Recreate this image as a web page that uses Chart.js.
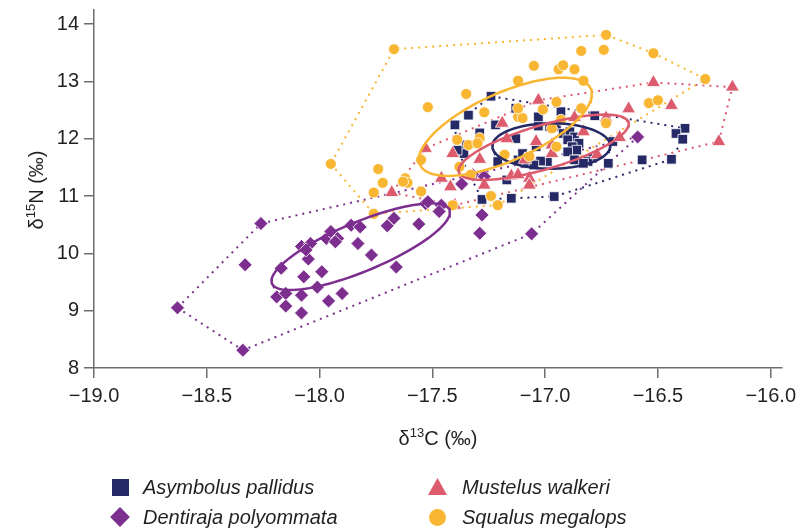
<!DOCTYPE html>
<html>
<head>
<meta charset="utf-8">
<script src="https://cdn.jsdelivr.net/npm/chart.js@4.4.1/dist/chart.umd.min.js"></script>
<style>
  body { margin: 0; background: #fff; }
  #wrap { position: relative; width: 803px; height: 530px; }
  #chart { position: absolute; left: 0; top: 0; }
  .legText { position: absolute; font: italic 20px "Liberation Sans", Arial, sans-serif; color: #231f20; line-height: 22px; white-space: nowrap; }
  .mk { position: absolute; }
</style>
</head>
<body>
<div id="wrap">
  <canvas id="chart" width="803" height="530"></canvas>
  <div class="mk" style="left:112px;top:479px;width:17px;height:17px;background:#252a66;"></div>
  <div class="legText" style="left:143px;top:476px;">Asymbolus pallidus</div>
  <div class="mk" style="left:113px;top:510px;width:14px;height:14px;background:#7d2f8f;transform:rotate(45deg);"></div>
  <div class="legText" style="left:143px;top:506px;">Dentiraja polyommata</div>
  <div class="mk" style="left:428px;top:478px;width:19px;height:17px;background:#dc5b6d;clip-path:polygon(50% 0,100% 100%,0 100%);"></div>
  <div class="legText" style="left:462px;top:476px;">Mustelus walkeri</div>
  <div class="mk" style="left:429px;top:509px;width:17px;height:17px;background:#f8b632;border-radius:50%;"></div>
  <div class="legText" style="left:462px;top:506px;">Squalus megalops</div>
</div>
<script>
// axis ticks
const xTicks = [-19.0, -18.5, -18.0, -17.5, -17.0, -16.5, -16.0];
const yTicks = [8, 9, 10, 11, 12, 13, 14];

// Asymbolus pallidus (navy squares)
const asymX = [-17.24, -17.34, -17.40, -16.93, -16.78, -17.03, -17.13, -17.22, -17.29, -17.13,
  -17.03, -16.98, -16.95, -16.92, -16.89, -16.87, -16.90, -16.85, -16.88, -16.86,
  -16.90, -16.79, -16.81, -16.87, -16.99, -17.02, -17.09, -17.35, -17.36, -17.39,
  -17.28, -17.15, -16.96, -17.17, -17.05, -17.12, -17.04, -16.38, -16.42, -16.39,
  -16.57, -16.44, -16.72, -16.83, -17.10, -16.70, -17.21];
const asymY = [12.74, 12.41, 12.24, 12.47, 12.40, 12.22, 12.53, 12.24, 12.10, 12.00,
  12.38, 12.21, 12.21, 12.09, 12.12, 12.03, 11.98, 11.92, 11.86, 11.80,
  11.77, 11.66, 11.60, 11.63, 11.60, 11.61, 11.57, 11.89, 11.74, 11.80,
  10.94, 10.96, 10.99, 11.28, 11.54, 11.63, 11.86, 12.18, 12.09, 11.99,
  11.63, 11.64, 11.57, 11.57, 11.74, 11.95, 11.60];

// Dentiraja polyommata (purple diamonds)
const dentX = [-18.26, -18.33, -18.63, -18.34, -18.17, -18.19, -18.15, -18.15, -18.07, -18.08,
  -18.08, -18.01, -17.99, -17.96, -17.90, -18.05, -18.08, -18.04, -18.06, -17.97,
  -17.95, -17.92, -17.93, -17.86, -17.82, -17.83, -17.77, -17.70, -17.67, -17.56,
  -17.66, -17.53, -17.46, -17.47, -17.37, -17.29, -17.06, -16.59, -17.28, -17.32,
  -17.27, -17.52];
const dentY = [10.52, 9.80, 9.05, 8.31, 9.74, 9.24, 9.30, 9.08, 9.59, 9.27,
  8.96, 9.41, 9.68, 9.17, 9.30, 9.90, 10.12, 10.17, 10.06, 10.26,
  10.38, 10.26, 10.20, 10.49, 10.46, 10.17, 9.97, 10.48, 10.61, 10.51,
  9.76, 10.87, 10.84, 10.73, 11.21, 10.35, 10.34, 12.03, 10.67, 11.37,
  11.34, 10.90];

// Mustelus walkeri (pink triangles)
const mustX = [-16.52, -16.17, -16.63, -16.44, -16.23, -16.67, -16.83, -16.87, -16.77, -17.03,
  -17.19, -16.73, -17.17, -17.41, -17.53, -17.29, -17.04, -16.97, -16.97, -17.09,
  -17.46, -17.42, -17.27, -17.15, -17.07, -17.07, -17.40, -17.68, -17.12];
const mustY = [12.98, 12.90, 12.52, 12.58, 11.95, 12.02, 12.12, 12.37, 11.72, 12.67,
  12.27, 12.36, 12.00, 11.74, 11.83, 11.64, 11.95, 11.89, 11.74, 11.63,
  11.31, 11.16, 11.19, 11.35, 11.31, 11.19, 10.84, 11.06, 11.37];

// Squalus megalops (yellow circles)
const squaX = [-17.67, -16.73, -16.84, -16.74, -17.05, -16.94, -16.92, -16.87, -17.12, -16.83,
  -17.35, -17.52, -17.27, -16.95, -17.01, -16.84, -17.12, -17.10, -16.93, -16.73,
  -16.52, -16.29, -16.54, -16.50, -17.12, -17.39, -17.34, -17.29, -17.30, -17.18,
  -16.97, -16.95, -17.07, -17.55, -17.62, -17.55, -17.24, -17.21, -17.41, -17.38,
  -17.33, -17.74, -17.72, -17.76, -17.76, -17.61, -17.63, -17.95];
const squaY = [13.56, 13.81, 13.53, 13.55, 13.27, 13.21, 13.28, 13.21, 13.01, 13.01,
  12.78, 12.55, 12.46, 12.64, 12.51, 12.53, 12.38, 12.36, 12.33, 12.27,
  13.49, 13.04, 12.62, 12.67, 12.53, 11.98, 11.89, 12.01, 11.92, 11.72,
  12.18, 11.86, 11.69, 11.63, 11.31, 11.08, 11.00, 10.84, 10.84, 11.51,
  11.37, 11.47, 11.23, 11.06, 10.69, 11.23, 11.25, 11.56];

const navy = "#252a66";
const purple = "#7d2f8f";
const pink = "#dc5b6d";
const yellow = "#f8b632";

function toPoints(xs, ys) {
  return xs.map((x, i) => ({ x: x, y: ys[i] }));
}

// convex hull (monotone chain), closed loop
function hull(pts) {
  const p = pts.slice().sort((a, b) => a.x - b.x || a.y - b.y);
  const cross = (o, a, b) => (a.x - o.x) * (b.y - o.y) - (a.y - o.y) * (b.x - o.x);
  const lower = [];
  for (const q of p) {
    while (lower.length >= 2 && cross(lower[lower.length - 2], lower[lower.length - 1], q) <= 0) lower.pop();
    lower.push(q);
  }
  const upper = [];
  for (let i = p.length - 1; i >= 0; i--) {
    const q = p[i];
    while (upper.length >= 2 && cross(upper[upper.length - 2], upper[upper.length - 1], q) <= 0) upper.pop();
    upper.push(q);
  }
  upper.pop();
  lower.pop();
  const h = lower.concat(upper);
  h.push(h[0]);
  return h;
}

// standard ellipse from the sample covariance
function ellipse(pts) {
  const n = pts.length;
  let mx = 0, my = 0;
  pts.forEach((p) => { mx += p.x; my += p.y; });
  mx /= n; my /= n;
  let sxx = 0, syy = 0, sxy = 0;
  pts.forEach((p) => {
    sxx += (p.x - mx) * (p.x - mx);
    syy += (p.y - my) * (p.y - my);
    sxy += (p.x - mx) * (p.y - my);
  });
  sxx /= n - 1; syy /= n - 1; sxy /= n - 1;
  const tr = sxx + syy, det = sxx * syy - sxy * sxy;
  const disc = Math.sqrt(tr * tr / 4 - det);
  const a = Math.sqrt(tr / 2 + disc), b = Math.sqrt(Math.max(tr / 2 - disc, 0));
  const th = 0.5 * Math.atan2(2 * sxy, sxx - syy);
  const out = [];
  for (let i = 0; i <= 120; i++) {
    const t = (i / 120) * 2 * Math.PI;
    out.push({
      x: mx + a * Math.cos(t) * Math.cos(th) - b * Math.sin(t) * Math.sin(th),
      y: my + a * Math.cos(t) * Math.sin(th) + b * Math.sin(t) * Math.cos(th),
    });
  }
  return out;
}

const species = [
  { name: "Squalus megalops", pts: toPoints(squaX, squaY), color: yellow, style: "circle", r: 5.5 },
  { name: "Mustelus walkeri", pts: toPoints(mustX, mustY), color: pink, style: "triangle", r: 8 },
  { name: "Asymbolus pallidus", pts: toPoints(asymX, asymY), color: navy, style: "rect", r: 6.8 },
  { name: "Dentiraja polyommata", pts: toPoints(dentX, dentY), color: purple, style: "rectRot", r: 7 },
];

const datasets = [];
species.forEach((s) => {
  datasets.push({
    label: s.name + " ellipse",
    data: ellipse(s.pts),
    showLine: true, pointRadius: 0, borderColor: s.color, borderWidth: 2.5, fill: false, order: 1,
  });
});
species.forEach((s) => {
  datasets.push({
    label: s.name,
    data: s.pts,
    pointStyle: s.style, pointRadius: s.r, pointHoverRadius: s.r,
    backgroundColor: s.color, borderColor: "#ffffff", pointBorderWidth: 0.8, order: 2,
  });
});
species.forEach((s) => {
  datasets.push({
    label: s.name + " hull",
    data: hull(s.pts),
    showLine: true, pointRadius: 0, borderColor: s.color, borderWidth: 2,
    borderDash: [2, 5], fill: false, order: 3,
  });
});

// axis titles with superscripts
function drawSup(ctx, parts, cx, cy, rot) {
  const big = '20px "Liberation Sans", Arial, sans-serif';
  const small = '13px "Liberation Sans", Arial, sans-serif';
  let w = 0;
  parts.forEach((p) => { ctx.font = p.sup ? small : big; w += ctx.measureText(p.t).width; });
  ctx.save();
  ctx.translate(cx, cy);
  ctx.rotate(rot);
  ctx.fillStyle = "#231f20";
  ctx.textBaseline = "alphabetic";
  let x = -w / 2;
  parts.forEach((p) => {
    ctx.font = p.sup ? small : big;
    ctx.fillText(p.t, x, p.sup ? -1 : 7);
    x += ctx.measureText(p.t).width;
  });
  ctx.restore();
}

const titlePlugin = {
  id: "titles",
  afterDraw(chart) {
    const ctx = chart.ctx;
    drawSup(ctx, [{ t: "\u03b4" }, { t: "13", sup: true }, { t: "C (\u2030)" }], 438, 438, 0);
    drawSup(ctx, [{ t: "\u03b4" }, { t: "15", sup: true }, { t: "N (\u2030)" }], 36, 190, -Math.PI / 2);
  },
};

const axisColor = "#6d6e71";
new Chart(document.getElementById("chart"), {
  type: "scatter",
  data: { datasets: datasets },
  plugins: [titlePlugin],
  options: {
    responsive: false,
    animation: false,
    layout: { autoPadding: false, padding: { top: 10, right: 21, bottom: 0, left: 0 } },
    plugins: { legend: { display: false }, tooltip: { enabled: false } },
    scales: {
      x: {
        type: "linear", min: -19, max: -15.95,
        afterBuildTicks: (scale) => { scale.ticks = xTicks.map((v) => ({ value: v })); },
        afterFit: (scale) => {
          scale.height = 162;
          scale.paddingLeft = 0;
          scale.paddingRight = 0;
        },
        border: { display: true, color: axisColor, width: 1.5 },
        grid: { drawOnChartArea: false, drawTicks: true, tickLength: 10, color: axisColor, lineWidth: 1.5 },
        ticks: {
          color: "#231f20", padding: 6,
          font: { family: '"Liberation Sans", Arial, sans-serif', size: 20 },
          callback: (v) => (v < 0 ? "\u2212" : "") + Math.abs(v).toFixed(1),
        },
      },
      y: {
        type: "linear", min: 8, max: 14.244,
        afterBuildTicks: (scale) => { scale.ticks = yTicks.map((v) => ({ value: v })); },
        afterFit: (scale) => {
          scale.width = 94;
          scale.paddingTop = 0;
          scale.paddingBottom = 0;
        },
        border: { display: true, color: axisColor, width: 1.5 },
        grid: { drawOnChartArea: false, drawTicks: true, tickLength: 10, color: axisColor, lineWidth: 1.5 },
        ticks: {
          color: "#231f20", padding: 5,
          font: { family: '"Liberation Sans", Arial, sans-serif', size: 20 },
          callback: (v) => String(v),
        },
      },
    },
  },
});
</script>
</body>
</html>
